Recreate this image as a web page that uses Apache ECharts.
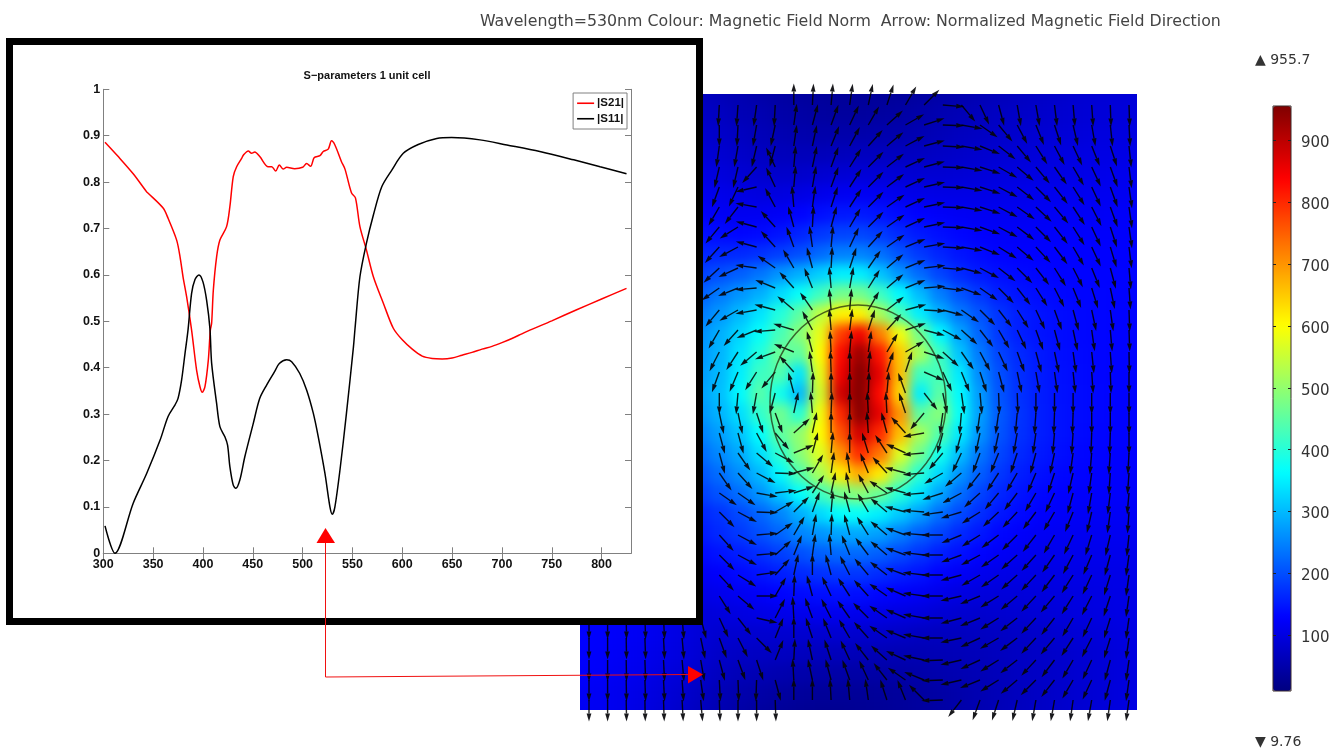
<!DOCTYPE html>
<html><head><meta charset="utf-8">
<style>
html,body{margin:0;padding:0;background:#fff;width:1344px;height:749px;overflow:hidden}
#heatWrap{position:absolute;left:580px;top:94px;width:557px;height:616px;overflow:hidden;background:#0000b0}
#heat{position:absolute;left:-580px;top:-94px;width:1344px;height:749px;filter:blur(6px)}
#main{position:absolute;left:0;top:0;width:1344px;height:749px}
</style>
<script src="https://cdn.jsdelivr.net/npm/echarts@6/dist/echarts.min.js"></script>
</head><body>
<div id="heatWrap"><div id="heat"></div></div>
<div id="main"></div>
<script>
// ---- S-parameter curves: [wavelength nm, magnitude]
const s21 = [[301.7,.886],[315,.855],[330,.818],[343.5,.779],[345,.776],[360,.744],[365,.722],[373.6,.675],[377,.639],[380,.596],[383.6,.553],[388.6,.481],[393.6,.395],[397,.359],[399.3,.347],[402,.359],[405.4,.417],[407.4,.481],[408.7,.496],[410.4,.567],[413.7,.639],[417,.675],[423.7,.704],[427,.747],[430.4,.812],[433.8,.833],[438.8,.851],[440.5,.858],[445.5,.867],[448.8,.862],[452,.865],[457,.855],[465.5,.833],[469,.833],[473,.824],[476.6,.837],[480.6,.828],[484,.832],[492,.829],[500,.832],[504,.84],[508,.834],[511.7,.853],[517.4,.857],[520.7,.866],[525.7,.871],[529,.889],[532.4,.88],[539,.844],[542.5,.828],[549,.777],[553,.766],[557.5,.704],[564,.654],[571,.596],[581,.539],[591,.485],[600,.46],[610,.44],[620,.425],[630,.42],[640,.419],[650,.421],[660,.427],[670,.433],[680,.44],[690,.446],[700,.454],[710,.463],[720,.473],[728,.481],[750,.501],[775,.525],[800,.548],[825,.571]];
const s11 = [[301.7,.059],[311.7,0],[330,.108],[343.5,.172],[357,.244],[365,.295],[372,.32],[375,.334],[378.6,.374],[382,.431],[385,.481],[388.6,.56],[392,.59],[396,.6],[400,.585],[403.7,.545],[407,.484],[408.7,.41],[413.7,.323],[417,.273],[422,.251],[424.7,.233],[427,.187],[430.4,.147],[433,.14],[437,.158],[442,.208],[450.5,.28],[457,.334],[464,.363],[472,.392],[476.6,.409],[484,.417],[489,.413],[497,.388],[504,.352],[510.7,.302],[515.7,.251],[522.4,.172],[527.4,.1],[529.8,.084],[532.4,.1],[537.5,.18],[544,.302],[551,.445],[552.6,.485],[557.5,.596],[564,.668],[571,.729],[579.4,.79],[589.5,.826],[601,.862],[616,.881],[634.6,.894],[649.5,.896],[678,.891],[705,.88],[738,.866],[772,.848],[798.5,.833],[825,.818]];
const waveTicks = [300,350,400,450,500,550,600,650,700,750,800];
const magTicks = [0,.1,.2,.3,.4,.5,.6,.7,.8,.9,1];

// ---- Field norm samples; each row is right-aligned to the last column
const fieldCols = [580,600,620,640,660,680,700,720,740,760,780,800,820,840,860,880,900,920,940,960,980,1000,1020,1040,1060,1080,1100,1120,1140];
const fieldRows = [94,114,134,154,174,194,214,234,254,274,294,314,334,354,374,394,414,434,454,474,494,514,534,554,574,594,614,634,654,674,694,714];
const fieldNorm = [
[70,70,62,55,48,42,38,35,32,32,32,35,40,46,52,58,64,70,75,80,85,88,90,92],
[78,75,70,60,55,48,44,40,38,38,40,42,48,55,60,66,72,76,80,84,88,92,94,96],
[85,82,78,70,62,56,52,50,50,50,52,52,56,62,68,72,78,82,86,90,94,97,98,100],
[90,90,85,78,70,66,64,64,66,68,68,68,70,74,78,82,86,90,94,97,100,103,104,106],
[100,100,95,88,82,80,80,84,88,90,90,88,86,86,88,92,96,98,100,103,106,108,110,112],
[112,112,108,102,98,98,102,108,115,118,115,110,106,104,104,104,106,108,110,112,113,115,116,118],
[125,125,120,115,115,120,130,140,148,150,145,135,128,122,118,116,116,116,118,119,120,120,122,122],
[142,140,136,132,135,145,160,178,190,192,182,165,150,140,132,126,122,122,122,124,125,125,125,125],
[160,160,162,165,172,185,200,225,245,248,232,205,180,160,146,136,130,128,128,128,128,128,128,128],
[180,185,200,215,235,265,290,320,350,350,310,265,225,190,165,150,140,135,132,130,130,130,130,130],
[205,215,240,265,290,330,370,420,470,470,420,360,300,245,205,178,155,145,138,134,132,132,130,130],
[225,240,268,300,340,395,450,540,610,610,520,430,350,290,240,205,175,155,145,138,134,132,130,130],
[240,260,290,325,370,430,490,580,780,850,720,590,470,360,280,220,178,155,145,138,134,132,130,130],
[250,265,295,340,395,465,450,600,830,930,820,650,520,420,310,240,190,165,150,140,135,132,130,130],
[255,270,300,350,420,440,340,580,850,950,860,660,420,430,345,255,200,170,152,142,136,132,130,130],
[260,275,305,360,445,380,300,560,880,950,830,640,350,450,360,270,205,172,154,143,137,133,130,130],
[245,265,295,335,410,470,400,590,800,945,860,700,450,490,370,275,210,175,155,144,137,133,130,130],
[225,245,275,310,365,450,500,600,760,880,800,660,520,440,345,265,205,172,155,144,136,132,130,130],
[205,225,255,285,335,405,490,570,700,800,730,570,470,380,305,238,192,165,150,140,133,130,128,128],
[190,205,230,260,300,360,440,520,620,680,620,490,400,330,265,215,178,155,142,134,130,128,126,126],
[175,185,205,230,265,310,365,420,470,490,460,400,340,280,230,190,162,145,134,128,125,125,124,124],
[155,160,175,195,220,250,290,330,365,370,350,315,275,230,195,170,148,135,126,122,120,120,120,120],
[145,150,165,180,200,220,250,265,280,285,275,245,215,190,165,148,133,124,118,116,115,115,115,115],
[130,135,145,155,170,185,200,215,225,225,215,195,175,155,142,130,120,114,110,110,110,110,110,110],
[115,118,125,135,145,155,165,172,178,178,168,155,145,130,120,112,106,104,102,104,105,106,106,108],
[100,104,110,116,122,130,136,140,142,140,132,125,118,108,100,96,94,94,96,98,100,102,104,106],
[128,127,124,120,112,104,92,95,100,104,108,110,112,112,110,105,100,95,88,84,82,84,86,90,94,98,100,103,106],
[128,126,122,118,110,102,92,84,84,84,84,84,84,84,82,80,76,70,68,68,70,72,76,80,85,90,94,98,103],
[128,124,120,114,106,98,88,78,74,72,70,68,66,64,62,60,58,58,60,62,65,68,72,76,80,85,90,95,100],
[125,122,116,110,100,92,80,70,62,58,54,50,48,46,45,45,46,48,52,56,60,65,70,75,80,85,90,95,100],
[120,118,112,105,95,85,72,60,52,46,40,36,33,32,32,34,36,40,44,50,56,62,68,74,80,85,90,96,102],
[118,116,110,102,92,80,68,55,45,38,32,28,26,26,28,30,34,38,42,48,55,62,68,74,80,86,92,98,104]
];
const fieldMin = 9.76, fieldMax = 955.7;
const colourTicks = [100,200,300,400,500,600,700,800,900];
const jet = ['#000080','#0000ff','#0080ff','#00ffff','#80ff80','#ffff00','#ff8000','#ff0000','#800000'];

// ---- Arrow field: tail nodes in plot units, heading in degrees (0 up, 90 right); rows right-aligned
const nodeX = [9,27.6,46.2,64.9,83.5,102.1,120.7,139.3,158,176.6,195.2,213.8,232.4,251.1,269.7,288.3,306.9,325.5,344.1,362.8,381.4,400,418.6,437.2,455.9,474.5,493.1,511.7,530.3,549];
const nodeY = [11,31,52,73,93,113,133,153,174,194,216,236,258,278,299,319,339,359,379,399,418,441,461,481,502,524,544,566,586,606];
const heading = [
[-177,-176,-172,-177,0,3,5,8,12,18,30,45,95,140,155,165,170,170,173,175,176,178,178],
[180,-177,-170,-168,8,15,20,25,30,48,60,72,92,100,125,140,152,158,162,167,170,174,177],
[-172,-170,-167,-165,8,12,22,28,42,50,62,75,93,100,112,128,140,148,152,155,158,162,174],
[-167,-167,-138,-25,5,12,20,32,45,52,65,75,92,100,108,120,130,140,145,150,155,160,173],
[-160,-155,-103,-25,5,10,20,33,45,53,65,77,92,100,108,118,128,135,142,148,155,160,172],
[-150,-142,-80,-28,-5,8,18,33,45,55,65,78,92,100,108,118,125,133,140,147,153,160,172],
[-140,-122,-75,-42,-15,3,15,30,45,55,65,78,92,100,110,118,127,135,142,148,155,162,172],
[-138,-118,-75,-42,-20,-8,5,25,42,55,68,80,93,100,112,122,130,137,143,150,155,163,173],
[-133,-115,-82,-55,-30,-15,3,18,35,50,68,83,95,105,118,128,135,142,148,153,158,165,175],
[-125,-112,-95,-68,-42,-22,-5,10,32,50,68,85,97,110,125,135,142,148,153,158,163,168,176],
[-140,-120,-100,-75,-50,-35,-5,5,30,52,75,93,105,125,135,142,148,155,160,165,168,172,178],
[-150,-138,-112,-95,-73,-28,-5,7,18,42,72,105,118,132,142,150,155,160,165,168,172,175,178],
[-153,-147,-130,-110,-68,-15,-3,5,8,30,60,108,132,145,152,155,160,165,168,172,174,176,179],
[-160,-157,-148,-140,-42,-8,-2,0,5,18,18,113,155,158,162,165,168,170,172,174,176,178,180],
[180,-175,-170,-165,-15,2,0,0,2,5,-20,142,168,172,175,178,178,180,180,180,180,180,180],
[168,168,162,160,12,-5,2,0,-3,-3,-18,-140,-172,-175,-172,-172,-175,-176,-178,-178,180,180,180],
[165,165,152,140,48,12,0,0,-4,-15,-42,-100,-165,-165,-168,-168,-170,-172,-175,-176,-178,-178,180],
[165,145,130,118,68,15,5,0,-17,-33,-65,-95,-140,-155,-160,-158,-162,-165,-168,-172,-175,-176,-177],
[145,138,118,92,75,30,8,-8,-22,-42,-75,-95,-120,-130,-142,-147,-150,-157,-162,-167,-172,-176,-176],
[125,125,100,83,72,33,12,-10,-28,-55,-75,-95,-108,-118,-132,-140,-143,-150,-155,-165,-170,-173,-175],
[135,118,92,60,45,20,5,-15,-30,-50,-75,-85,-98,-107,-122,-133,-137,-143,-150,-158,-167,-172,-176],
[138,118,85,55,30,10,2,-15,-32,-50,-70,-85,-90,-112,-122,-127,-135,-142,-150,-155,-163,-167,-174],
[135,118,85,48,22,8,-5,-22,-37,-50,-70,-83,-90,-110,-118,-125,-132,-138,-145,-152,-157,-165,-172],
[137,122,82,42,12,0,-15,-27,-40,-52,-70,-83,-90,-105,-120,-125,-132,-137,-143,-148,-155,-163,-172],
[148,130,90,30,2,-15,-25,-33,-42,-55,-67,-82,-90,-103,-112,-122,-130,-137,-140,-148,-153,-162,-172],
[180,180,179,178,177,175,165,155,142,103,27,-3,-20,-27,-35,-45,-55,-67,-80,-90,-105,-112,-122,-128,-137,-142,-150,-155,-163,-172],
[180,180,179,178,177,175,168,160,153,135,22,0,-18,-22,-30,-42,-55,-68,-80,-90,-102,-115,-120,-127,-137,-140,-147,-153,-163,-172],
[180,180,179,178,177,175,170,165,160,162,22,3,-12,-18,-25,-38,-48,-65,-78,-92,-103,-115,-122,-128,-137,-143,-150,-155,-165,-172],
[180,180,179,178,177,176,172,177,178,-178,165,-3,-12,-15,-20,-25,-38,-55,-68,-92,-103,-112,-122,-130,-135,-142,-150,-155,-165,-172],
[180,180,179,179,178,177,175,178,180,180,178,0,0,-3,-5,-8,-18,-22,-45,-92,-142,-160,-162,-167,-170,-170,-172,-170,-172,-172]
];
const scatterer = [[278,308,88,97]];

const titleText = 'Wavelength=530nm Colour: Magnetic Field Norm  Arrow: Normalized Magnetic Field Direction';
const plotTitle = 'S\u2212parameters 1 unit cell';

// ---- Heat layer (its own canvas, softened with a CSS blur)
const heatData = [];
fieldNorm.forEach((row, j) => {
  const off = fieldCols.length - row.length;
  row.forEach((v, i) => heatData.push([i + off, j, v]));
});
const heatChart = echarts.init(document.getElementById('heat'), null, {width:1344, height:749});
heatChart.setOption({
  animation:false,
  grid:{left:570, top:84, width:580, height:640},
  xAxis:{type:'category', data:fieldCols.map(String), show:false},
  yAxis:{type:'category', data:fieldRows.map(String), inverse:true, show:false},
  visualMap:{show:false, min:fieldMin, max:fieldMax, inRange:{color:jet}, seriesIndex:0},
  series:[{type:'heatmap', data:heatData, progressive:0, itemStyle:{borderWidth:0}}]
});

// ---- Main layer
const arrowData = [];
heading.forEach((row, j) => {
  const off = nodeX.length - row.length;
  row.forEach((a, i) => arrowData.push([nodeX[i + off], nodeY[j], a]));
});
const arrowLen = 21.5, headLen = 8, headW = 2.4;
function renderArrow(params, api){
  const t = api.coord([api.value(0), api.value(1)]);
  const r = api.value(2) * Math.PI / 180;
  const ux = Math.sin(r), uy = -Math.cos(r);
  const tip = [t[0] + ux*arrowLen, t[1] + uy*arrowLen];
  const bx = tip[0] - ux*headLen, by = tip[1] - uy*headLen;
  return {type:'group', children:[
    {type:'line', shape:{x1:t[0], y1:t[1], x2:bx, y2:by}, style:{stroke:'rgba(0,0,0,0.85)', lineWidth:1.4}},
    {type:'polygon', shape:{points:[tip,[bx - uy*headW, by + ux*headW],[bx + uy*headW, by - ux*headW]]}, style:{fill:'rgba(5,5,10,0.92)'}}
  ]};
}
function renderEllipse(params, api){
  const c = api.coord([api.value(0), api.value(1)]);
  return {type:'ellipse', shape:{cx:c[0], cy:c[1], rx:api.value(2), ry:api.value(3)},
    style:{fill:null, stroke:'rgba(30,40,10,0.72)', lineWidth:1.5}};
}
const plotFont = {fontFamily:'"Liberation Sans Narrow","Liberation Sans",sans-serif', fontWeight:'bold', color:'#111'};
const frame = {lineStyle:{color:'#808080', width:1}};
const tick = {inside:true, length:6, lineStyle:{color:'#808080', width:1}};

const chart = echarts.init(document.getElementById('main'), null, {width:1344, height:749});
chart.setOption({
  animation:false,
  backgroundColor:'transparent',
  title:[
    {text:titleText, left:480, top:14, padding:0, textStyle:{fontFamily:'"DejaVu Sans"', fontWeight:'normal', fontSize:15.8, color:'#444'}},
    {text:plotTitle, left:367, textAlign:'center', top:70, padding:0, z:20, textStyle:Object.assign({}, plotFont, {fontSize:11})},
    {text:'\u25B2 955.7', left:1255, top:53, padding:0, textStyle:{fontFamily:'"DejaVu Sans"', fontWeight:'normal', fontSize:14, color:'#333'}},
    {text:'\u25BC 9.76', left:1255, top:735, padding:0, textStyle:{fontFamily:'"DejaVu Sans"', fontWeight:'normal', fontSize:14, color:'#333'}}
  ],
  grid:[
    {left:103.3, top:89.3, width:527.7, height:464, z:10},
    {left:580, top:94, width:557, height:616, show:false},
    {left:1273, top:106, width:18, height:585, show:true, backgroundColor:'transparent', borderColor:'#3a2a2a', borderWidth:1, z:5}
  ],
  xAxis:[
    {gridIndex:0, type:'value', min:300, max:829.5, position:'bottom', z:10, axisLine:Object.assign({show:true}, frame), splitLine:{show:false},
      axisTick:Object.assign({customValues:waveTicks}, tick),
      axisLabel:Object.assign({customValues:waveTicks, margin:5, fontSize:12.5}, plotFont)},
    {gridIndex:0, type:'value', min:300, max:829.5, position:'top', z:10, axisLine:Object.assign({show:true}, frame), splitLine:{show:false},
      axisTick:Object.assign({customValues:waveTicks}, tick), axisLabel:{show:false}},
    {gridIndex:1, type:'value', min:0, max:557, show:false},
    {gridIndex:2, type:'value', min:0, max:1, show:false}
  ],
  yAxis:[
    {gridIndex:0, type:'value', min:0, max:1, position:'left', z:10, axisLine:Object.assign({show:true}, frame), splitLine:{show:false},
      axisTick:Object.assign({customValues:magTicks}, tick),
      axisLabel:Object.assign({customValues:magTicks, margin:3, fontSize:12.5}, plotFont)},
    {gridIndex:0, type:'value', min:0, max:1, position:'right', z:10, axisLine:Object.assign({show:true}, frame), splitLine:{show:false},
      axisTick:Object.assign({customValues:magTicks}, tick), axisLabel:{show:false}},
    {gridIndex:1, type:'value', min:0, max:616, inverse:true, show:false},
    {gridIndex:2, type:'value', min:fieldMin, max:fieldMax, position:'left', z:6, axisLine:{show:false}, splitLine:{show:false},
      axisTick:{customValues:colourTicks, inside:true, length:3, lineStyle:{color:'#222'}}, axisLabel:{show:false}},
    {gridIndex:2, type:'value', min:fieldMin, max:fieldMax, position:'right', z:6, axisLine:{show:false}, splitLine:{show:false},
      axisTick:{customValues:colourTicks, inside:true, length:3, lineStyle:{color:'#222'}}, axisLabel:{show:false}},
    {gridIndex:2, type:'value', min:fieldMin + 5, max:fieldMax + 5, position:'right', z:6, axisLine:{show:false}, splitLine:{show:false}, axisTick:{show:false},
      axisLabel:{customValues:colourTicks, margin:10, fontFamily:'"DejaVu Sans"', fontSize:15, color:'#333'}}
  ],
  visualMap:{type:'continuous', seriesIndex:[], min:fieldMin, max:fieldMax, calculable:false, realtime:false, hoverLink:false,
    left:1273, top:106, itemWidth:18, itemHeight:585, padding:0, text:['',''], showLabel:false, inRange:{color:jet}, z:4},
  legend:{data:[{name:'|S21|', icon:'rect'},{name:'|S11|', icon:'rect'}], orient:'vertical', right:717, top:93, z:20, padding:[3,3,3,4], itemGap:1,
    itemWidth:17, itemHeight:1.6, backgroundColor:'#fff', borderColor:'#808080', borderWidth:1, selectedMode:false,
    textStyle:Object.assign({}, plotFont, {fontSize:11.5, lineHeight:14.5, padding:[0,0,0,-2]})},
  graphic:{elements:[
    {type:'rect', z:8, shape:{x:9.5, y:41.5, width:690, height:580}, style:{fill:'#fff', stroke:'#000', lineWidth:7}},
    {type:'polyline', z:30, shape:{points:[[325.5,543],[325.5,677],[692,674.5]]}, style:{stroke:'#f01010', lineWidth:1, fill:null}},
    {type:'polygon', z:30, shape:{points:[[325.5,528],[316.5,543],[335,543]]}, style:{fill:'#ff0000'}},
    {type:'polygon', z:30, shape:{points:[[703,674.5],[688,666],[688,683.5]]}, style:{fill:'#ff0000'}}
  ]},
  series:[
    {type:'custom', name:'arrows', xAxisIndex:2, yAxisIndex:2, clip:false, z:2, silent:true, renderItem:renderArrow,
      encode:{x:0, y:1}, data:arrowData},
    {type:'custom', name:'scatterer', xAxisIndex:2, yAxisIndex:2, clip:false, z:2, silent:true, renderItem:renderEllipse,
      encode:{x:0, y:1}, data:scatterer},
    {type:'line', name:'|S21|', xAxisIndex:0, yAxisIndex:0, z:15, showSymbol:false, symbol:'none', smooth:0.3, data:s21, lineStyle:{color:'#ff0000', width:1.5}, itemStyle:{color:'#ff0000'}},
    {type:'line', name:'|S11|', xAxisIndex:0, yAxisIndex:0, z:15, showSymbol:false, symbol:'none', smooth:0.3, data:s11, lineStyle:{color:'#000', width:1.5}, itemStyle:{color:'#000'}}
  ]
});
</script>
</body></html>
